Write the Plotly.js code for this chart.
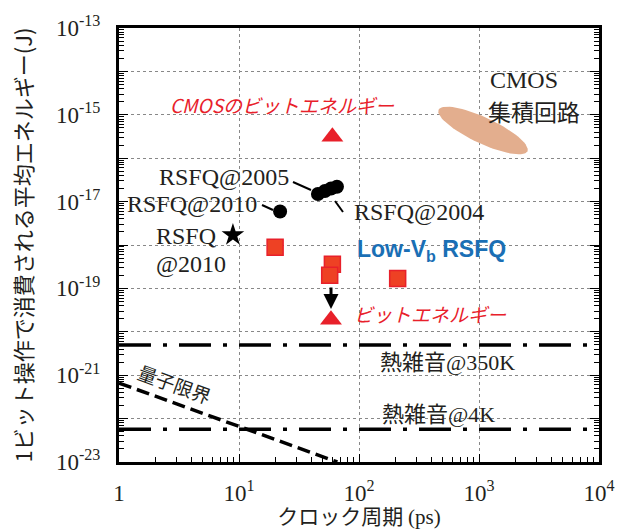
<!DOCTYPE html>
<html><head><meta charset="utf-8">
<script src="https://cdn.plot.ly/plotly-3.0.1.min.js"></script>
<style>body{margin:0;background:#fff}</style>
</head><body>
<div id="chart" style="width:636px;height:530px"></div>
<script>
// ---- data (clock period in ps, energy in J) ----
const rsfqX = [22, 45.5, 52, 58.5, 65.5];
const rsfqY = [5.9e-18, 1.5e-17, 1.75e-17, 2.0e-17, 2.2e-17];
const starX = [8.9];
const starY = [1.7e-18];
const lowVbX = [20, 60, 57, 210];
const lowVbY = [8.9e-19, 3.6e-19, 2.0e-19, 1.7e-19];
const triX = [60, 58.4];
const triY = [3.1e-16, 1.9e-20];
const thermal350X = [1, 10000];
const thermal350Y = [4.97e-21, 4.97e-21];
const thermal4X = [1, 10000];
const thermal4Y = [5.7e-23, 5.7e-23];
const quantumX = [1, 66];
const quantumY = [6.6e-22, 1.0e-23];
const cmosCenterX = 1080;
const cmosCenterY = 4.35e-16;

const xTickVals = [1, 10, 100, 1000, 10000];
const xTickText = ['1', '10<sup>1</sup>', '10<sup>2</sup>', '10<sup>3</sup>', '10<sup>4</sup>'];
const yExps = [-23,-22,-21,-20,-19,-18,-17,-16,-15,-14,-13];

const L = 119, R = 37, T = 28, B = 68, W = 636, H = 530;
const pw = W - L - R, ph = H - T - B;
const pxDecX = pw / 4, pxDecY = ph / 10;
const px = x => (x - L) / pw;
const py = y => (H - B - y) / ph;

const ea = 49, eb = 13, ephi = 25 * Math.PI / 180;
const ellX = [], ellY = [];
for (let i = 0; i <= 72; i++) {
  const t = i / 72 * 2 * Math.PI;
  const dx = ea * Math.cos(t) * Math.cos(ephi) - eb * Math.sin(t) * Math.sin(ephi);
  const dy = ea * Math.cos(t) * Math.sin(ephi) + eb * Math.sin(t) * Math.cos(ephi);
  ellX.push(Math.pow(10, Math.log10(cmosCenterX) + dx / pxDecX));
  ellY.push(Math.pow(10, Math.log10(cmosCenterY) - dy / pxDecY));
}

const yTickVals = yExps.map(e => Math.pow(10, e));
const yTickText = yExps.map(e => (e % 2 !== 0) ? '10<sup>' + e + '</sup>' : '');
const minorX = [], minorY = [];
for (let d = 0; d < 4; d++) for (let k = 2; k <= 9; k++) minorX.push(k * Math.pow(10, d));
for (let e = -23; e < -13; e++) for (let k = 2; k <= 9; k++) minorY.push(k * Math.pow(10, e));

const SERIF = 'Liberation Serif';
const CJK = 'Noto Sans CJK JP';
const RED = '#e8202a';
const INK = '#231f20';

const traces = [
  {x: ellX, y: ellY, mode: 'lines', fill: 'toself', fillcolor: '#e3ae8e',
   line: {width: 0, color: '#e3ae8e'}, hoverinfo: 'skip'},
  {x: thermal350X, y: thermal350Y, mode: 'lines',
   line: {color: '#000', width: 3.5, dash: '32px,12px,4px,12px'}},
  {x: thermal4X, y: thermal4Y, mode: 'lines',
   line: {color: '#000', width: 3.5, dash: '32px,12px,4px,12px'}},
  {x: quantumX, y: quantumY, mode: 'lines',
   line: {color: '#000', width: 3.5, dash: '13px,6px'}},
  {x: rsfqX, y: rsfqY, mode: 'markers',
   marker: {symbol: 'circle', size: 14, color: '#000'}},
  {x: starX, y: starY, mode: 'markers',
   marker: {symbol: 'star', size: 17, color: '#000'}},
  {x: lowVbX, y: lowVbY, mode: 'markers',
   marker: {symbol: 'square', size: 16, color: '#ee4124', line: {color: RED, width: 1.5}}},
  {x: triX, y: triY, mode: 'markers',
   marker: {symbol: 'triangle-up', size: 19, color: RED}}
];

function ann(text, x, y, opts) {
  return Object.assign({xref: 'paper', yref: 'paper', x: px(x), y: py(y), text: text,
    showarrow: false, xanchor: 'center', yanchor: 'middle',
    font: {family: SERIF, size: 24, color: INK}}, opts || {});
}
const cjk = s => '<span style="font-family:Noto Sans CJK JP">' + s + '</span>';

const annotations = [
  ann('CMOSのビットエネルギー', 282, 104, {font: {family: CJK, size: 19, color: RED, style: 'italic'}}),
  ann('CMOS', 488, 80, {xanchor: 'left'}),
  ann('集積回路', 486, 111, {xanchor: 'left', font: {family: CJK, size: 23, color: INK}}),
  ann('RSFQ@2005', 291, 177, {xanchor: 'right'}),
  ann('RSFQ@2010', 259, 204, {xanchor: 'right'}),
  ann('RSFQ@2004', 352, 212, {xanchor: 'left'}),
  ann('RSFQ', 154, 236, {xanchor: 'left'}),
  ann('@2010', 154, 264, {xanchor: 'left'}),
  ann('<b>Low-V<sub>b</sub> RSFQ</b>', 355, 250, {xanchor: 'left', font: {family: 'Liberation Sans', size: 23, color: '#1a6fb5'}}),
  ann('ビットエネルギー', 352, 313, {xanchor: 'left', font: {family: CJK, size: 19, color: RED, style: 'italic'}}),
  ann(cjk('熱雑音') + '@350K', 378, 360, {xanchor: 'left', font: {family: SERIF, size: 22, color: INK}}),
  ann(cjk('熱雑音') + '@4K', 380, 412, {xanchor: 'left', font: {family: SERIF, size: 22, color: INK}}),
  ann('量子限界', 175, 383, {textangle: 20, font: {family: CJK, size: 19, color: INK}}),
  {xref: 'paper', yref: 'paper', x: px(331), y: py(309), ax: 0, ay: -23, axref: 'pixel', ayref: 'pixel',
   text: '', showarrow: true, arrowhead: 2, arrowsize: 1, arrowwidth: 3, arrowcolor: '#000'}
];

function seg(x0, y0, x1, y1) {
  return {type: 'line', xref: 'paper', yref: 'paper', x0: px(x0), y0: py(y0), x1: px(x1), y1: py(y1),
    line: {color: '#000', width: 2}};
}
const shapes = [
  seg(293, 182, 311, 190),
  seg(262, 205, 273, 210),
  seg(335, 201, 343, 212)
];

const layout = {
  width: W, height: H,
  margin: {l: L, r: R, t: T, b: B, pad: 0},
  paper_bgcolor: '#fff', plot_bgcolor: '#fff',
  showlegend: false,
  xaxis: {
    type: 'log', range: [0, 4], autorange: false,
    tickmode: 'array', tickvals: xTickVals, ticktext: xTickText,
    ticks: 'inside', ticklen: 8, tickwidth: 1, tickcolor: '#000',
    showline: true, linecolor: '#000', linewidth: 3, mirror: true,
    showgrid: true, gridcolor: '#888', griddash: 'dot', gridwidth: 1,
    zeroline: false, ticklabelstandoff: 8,
    tickfont: {family: SERIF, size: 23, color: INK},
    minor: {tickmode: 'array', tickvals: minorX, ticks: 'inside', ticklen: 5, tickwidth: 1, tickcolor: '#000', showgrid: false},
    title: {text: 'クロック周期 <span style="font-family:Liberation Serif">(ps)</span>', font: {family: CJK, size: 21, color: INK}, standoff: 5}
  },
  yaxis: {
    type: 'log', range: [-23, -13], autorange: false,
    tickmode: 'array', tickvals: yTickVals, ticktext: yTickText,
    ticks: 'inside', ticklen: 9, tickwidth: 1, tickcolor: '#000',
    showline: true, linecolor: '#000', linewidth: 3, mirror: 'allticks',
    showgrid: true, gridcolor: '#888', griddash: 'dot', gridwidth: 1,
    zeroline: false, ticklabelstandoff: 11,
    tickfont: {family: SERIF, size: 23, color: INK},
    minor: {tickmode: 'array', tickvals: minorY, ticks: 'inside', ticklen: 5, tickwidth: 1, tickcolor: '#000', showgrid: false},
    title: {text: '1ビット操作で消費される平均エネルギー(J)', font: {family: CJK, size: 22, color: INK}, standoff: 18}
  },
  annotations: annotations,
  shapes: shapes
};

Plotly.newPlot('chart', traces, layout, {displayModeBar: false});
</script>
</body></html>
